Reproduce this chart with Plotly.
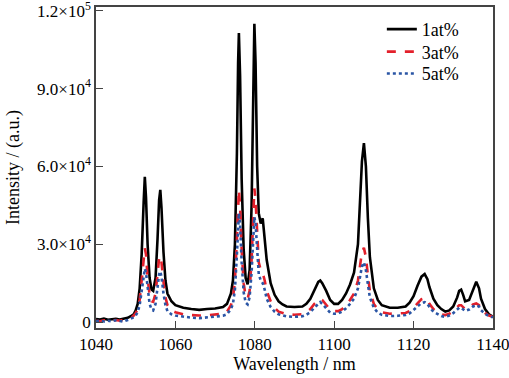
import plotly.graph_objects as go

wavelength = [
    1040, 1041, 1042, 1043, 1044, 1045, 1046, 1047, 1048, 1049,
    1049.5, 1050, 1050.5, 1051, 1051.5, 1052, 1052.3, 1052.6, 1053, 1053.5,
    1054, 1054.4, 1055, 1055.5, 1055.9, 1056.2, 1056.5, 1057, 1057.5, 1058,
    1059, 1060, 1062, 1064, 1066, 1068, 1070, 1072, 1073, 1074,
    1074.5, 1075, 1075.5, 1075.8, 1076, 1076.3, 1076.7, 1077.2, 1077.7, 1078.2,
    1078.7, 1079.2, 1079.6, 1079.9, 1080.2, 1080.6, 1081, 1081.5, 1082, 1082.5,
    1083, 1084, 1085, 1086, 1087, 1088, 1090, 1092, 1093, 1094,
    1095, 1096, 1096.5, 1097, 1098, 1099, 1100, 1101, 1102, 1103,
    1104, 1105, 1106, 1106.5, 1107, 1107.5, 1108, 1108.5, 1109, 1110,
    1111, 1112, 1114, 1116, 1118, 1119, 1120, 1121, 1122, 1122.8,
    1123.5, 1124, 1125, 1126, 1127, 1128, 1129, 1130, 1131, 1131.5,
    1132, 1132.5, 1133, 1134, 1135, 1135.8, 1136.5, 1137, 1138, 1139, 1140,
]

at1 = [
    1200, 1000, 1300, 900, 1100, 1200, 1000, 1400, 1600, 2500,
    3000, 4500, 7000, 13000, 26000, 46000, 56000, 48000, 30000, 17000,
    12500, 12000, 17000, 32000, 47000, 51000, 44000, 27000, 16000, 11000,
    8000, 6500, 5500, 5000, 4700, 5000, 5200, 5800, 7000, 11000,
    16000, 30000, 65000, 100000, 111500, 95000, 55000, 28000, 17000, 14500,
    20000, 45000, 95000, 115000, 100000, 60000, 42000, 38000, 40000, 33000,
    24000, 15000, 10500, 8000, 6800, 6000, 5800, 6000, 7000, 9000,
    12500, 15500, 16000, 15000, 12000, 8500, 7000, 7000, 8500, 11000,
    14500, 19000, 30000, 45000, 62000, 69000, 60000, 40000, 25000, 13000,
    8500, 6500, 5500, 5500, 6000, 7500, 10000, 14000, 17500, 18500,
    16500, 13500, 9000, 6500, 5000, 4000, 4500, 6000, 9500, 12000,
    12500, 10500, 8000, 8500, 12500, 15500, 13000, 9000, 5000, 3000, 2000,
]

at3 = [
    500, 300, 700, 400, 600, 800, 500, 900, 1200, 1800,
    2500, 3500, 5000, 8500, 16000, 25000, 28500, 26000, 17000, 10500,
    8000, 7800, 11000, 18500, 24500, 25500, 23000, 15500, 9500, 6500,
    4500, 3800, 3000, 2700, 2500, 2600, 2800, 3200, 4000, 6500,
    9000, 16000, 32000, 46000, 51000, 45000, 28000, 15000, 10000, 9000,
    12000, 24000, 44000, 51500, 47000, 32000, 23000, 20000, 19000, 16000,
    12000, 8000, 5500, 4000, 3500, 3000, 2800, 3000, 3800, 5000,
    7000, 8500, 9000, 8500, 6500, 4800, 4200, 4200, 5000, 6500,
    8500, 11000, 16000, 21000, 27000, 28600, 25000, 18000, 12000, 7000,
    4800, 3800, 3200, 3300, 3500, 4200, 5500, 7200, 8800, 9200,
    8500, 7000, 5000, 3800, 3000, 2700, 3200, 4200, 5800, 6500,
    6500, 5800, 5000, 5500, 6800, 7200, 6500, 5000, 3500, 2500, 2000,
]

at5 = [
    300, 600, 200, 500, 300, 700, 400, 200, 800, 1300,
    1800, 2500, 3800, 6500, 12000, 18000, 20500, 19000, 12500, 7000,
    4800, 4500, 7000, 13000, 18500, 19500, 17500, 11000, 6500, 4200,
    3000, 2500, 2000, 1700, 1500, 1800, 2000, 2400, 3000, 5000,
    7000, 12500, 26000, 38000, 42000, 38000, 23000, 11500, 7500, 6800,
    9500, 19000, 35000, 40500, 38000, 26000, 18500, 16000, 15000, 12500,
    9000, 5800, 4000, 3000, 2500, 2200, 2000, 2200, 2800, 3800,
    5500, 7200, 7700, 7000, 5200, 3600, 3200, 3300, 4000, 5300,
    7000, 9000, 13000, 17000, 21500, 23000, 20000, 14500, 9500, 5500,
    3600, 2800, 2300, 2400, 2700, 3300, 4500, 6000, 7300, 7700,
    7000, 5800, 4000, 3000, 2300, 2000, 2500, 3400, 4800, 5500,
    5500, 4900, 4300, 4800, 6000, 6500, 6000, 4600, 3200, 2300, 1800,
]

series_names = ["1at%", "3at%", "5at%"]
x_ticks = [1040, 1060, 1080, 1100, 1120, 1140]
y_ticks = [0, 30000, 60000, 90000, 120000]
y_tick_labels = ["0", "3.0×10<sup>4</sup>", "6.0×10<sup>4</sup>",
                 "9.0×10<sup>4</sup>", "1.2×10<sup>5</sup>"]

FONT = "Liberation Serif, Times New Roman, serif"

fig = go.Figure()
fig.add_trace(go.Scatter(x=wavelength, y=at1, mode="lines", name=series_names[0],
                         legend="legend",
                         line=dict(color="black", width=2.6, dash="solid")))
fig.add_trace(go.Scatter(x=wavelength, y=at3, mode="lines", name=series_names[1],
                         legend="legend2",
                         line=dict(color="#e3202b", width=2.6, dash="dash")))
fig.add_trace(go.Scatter(x=wavelength, y=at5, mode="lines", name=series_names[2],
                         legend="legend3",
                         line=dict(color="#2a55a5", width=2.6, dash="dot")))

axis_common = dict(showline=True, linecolor="#444", linewidth=1.5, mirror=True,
                   ticks="inside", ticklen=7, tickwidth=1.2, tickcolor="#444",
                   showgrid=False, zeroline=False, automargin=False,
                   ticklabeloverflow="allow",
                   tickfont=dict(family=FONT, size=17, color="black"))


def legend_box(ypos):
    return dict(x=0.72, y=ypos, xanchor="left", yanchor="middle",
                bgcolor="rgba(0,0,0,0)", borderwidth=0,
                font=dict(family=FONT, size=18, color="black"),
                itemwidth=30)


fig.update_layout(
    width=509, height=378,
    margin=dict(l=96, r=16, t=7, b=50),
    paper_bgcolor="white", plot_bgcolor="white",
    font=dict(family=FONT, size=18, color="black"),
    showlegend=True,
    legend=legend_box(0.930),
    legend2=legend_box(0.860),
    legend3=legend_box(0.792),
    xaxis=dict(range=[1040, 1140.02], tickvals=x_ticks,
               title=dict(text="Wavelength / nm", standoff=0,
                          font=dict(family=FONT, size=18)),
               **axis_common),
    yaxis=dict(range=[-2300, 121500], tickvals=y_ticks, ticktext=y_tick_labels,
               title=dict(text="Intensity / (a.u.)", standoff=13,
                          font=dict(family=FONT, size=18)),
               **axis_common),
)

fig.write_html("out.html",
               config={"displayModeBar": False},
               post_script="document.body.style.margin='0px';document.body.style.padding='0px';")
